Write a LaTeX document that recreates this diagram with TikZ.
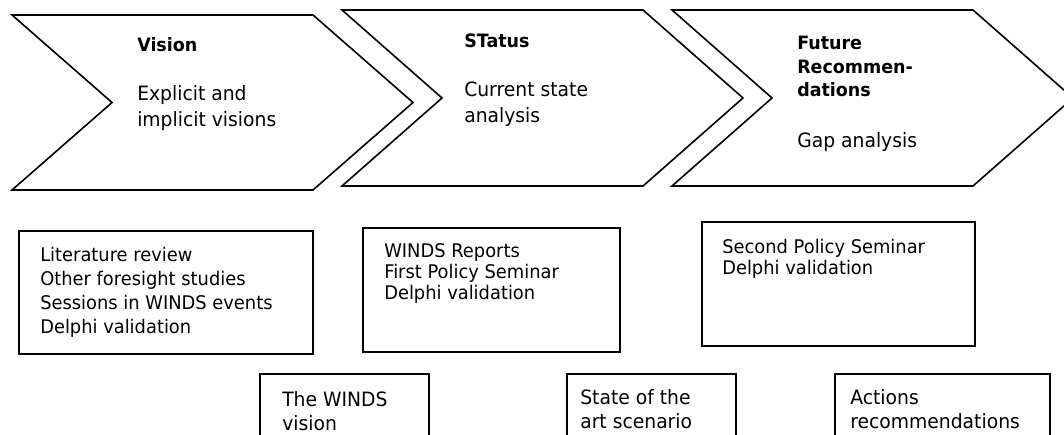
\documentclass[tikz,border=0pt]{standalone}
\usepackage{fontspec}
\setmainfont{DejaVu Sans}[FakeStretch=0.95]
\usetikzlibrary{fit}
\newcommand\mlines[3]{\fontsize{#1}{#2}\selectfont\begin{tabular}[t]{@{}l@{}}#3\end{tabular}}
\tikzset{
  chev/.style={draw, line width=1.2pt, fill=white, line join=miter},
  box/.style={draw, line width=1.1pt, inner sep=0pt},
  txt/.style={anchor=base west, inner sep=0pt, text=black},
}
\begin{document}
\begin{tikzpicture}[x=0.75pt,y=-0.75pt]
\useasboundingbox (0,0) rectangle (1064,435);
\clip (0,0) rectangle (1064,435);
% chevrons
\draw[chev] (12,15) -- (313,15) -- (413,102.5) -- (313,190) -- (12,190) -- (112,102.5) -- cycle;
\draw[chev] (342,10) -- (643,10) -- (743,98) -- (643,186) -- (342,186) -- (442,98) -- cycle;
\draw[chev] (672,10) -- (973,10) -- (1073,98) -- (973,186) -- (672,186) -- (772,98) -- cycle;
% chevron texts
\node[txt] (t1) at (137,52) {\mlines{13.8}{18}{\bfseries Vision}};
\node[txt] (b1) at (137,101) {\mlines{14.8}{19.5}{Explicit and\\implicit visions}};
\node[txt] (t2) at (464,48) {\mlines{13.8}{18}{\bfseries STatus}};
\node[txt] (b2) at (464,97) {\mlines{14.8}{19.5}{Current state\\analysis}};
\node[txt] (t3) at (797,50) {\mlines{13.8}{17.6}{\bfseries Future\\\bfseries Recommen-\\\bfseries dations}};
\node[txt] (b3) at (797,147) {\mlines{14.8}{19.5}{Gap analysis}};
% source boxes
\node[box, fit={(19,231) (313,354)}] (A) {};
\node[box, fit={(363,228) (620,352)}] (B) {};
\node[box, fit={(702,222) (975,346)}] (C) {};
\node[txt] (ta) at (40,261) {\mlines{14.1}{18}{Literature review\\Other foresight studies\\Sessions in WINDS events\\Delphi validation}};
\node[txt] (tb) at (384,257) {\mlines{14.1}{15.75}{WINDS Reports\\First Policy Seminar\\Delphi validation}};
\node[txt] (tc) at (722,253) {\mlines{14.1}{16.1}{Second Policy Seminar\\Delphi validation}};
% result boxes
\node[box, fit={(260,374) (429,450)}] (D) {};
\node[box, fit={(567,374) (736,450)}] (E) {};
\node[box, fit={(835,374) (1050,450)}] (F) {};
\node[txt] (td) at (282,406) {\mlines{14.8}{18.5}{The WINDS\\vision}};
\node[txt] (te) at (580,404) {\mlines{14.8}{18}{State of the\\art scenario}};
\node[txt] (tf) at (850,404) {\mlines{14.8}{18}{Actions\\recommendations}};
\end{tikzpicture}
\end{document}
